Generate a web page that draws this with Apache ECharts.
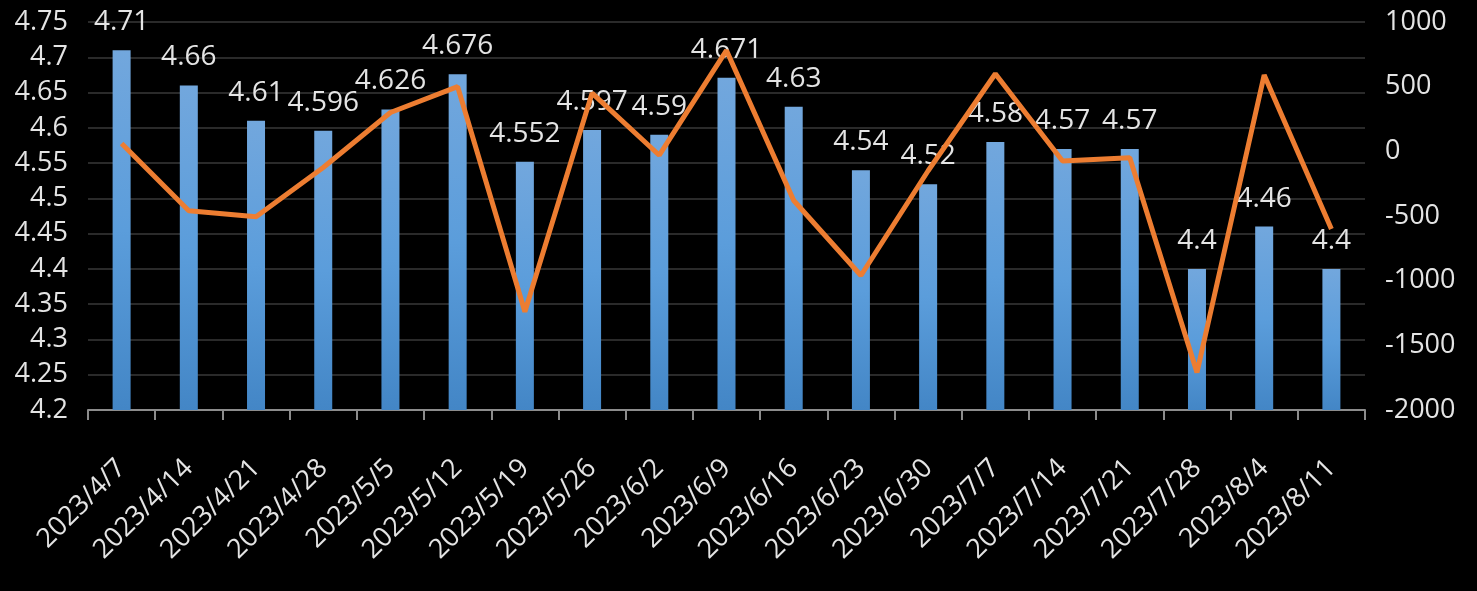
<!DOCTYPE html>
<html>
<head>
<meta charset="utf-8">
<script src="https://cdn.jsdelivr.net/npm/echarts@6/dist/echarts.min.js"></script>
<style>
html,body{margin:0;padding:0;background:#000;}
#c{width:1477px;height:591px;}
</style>
</head>
<body>
<div id="c"></div>
<script>
var categories = ["2023/4/7","2023/4/14","2023/4/21","2023/4/28","2023/5/5","2023/5/12","2023/5/19","2023/5/26","2023/6/2","2023/6/9","2023/6/16","2023/6/23","2023/6/30","2023/7/7","2023/7/14","2023/7/21","2023/7/28","2023/8/4","2023/8/11"];
var barValues = [4.71,4.66,4.61,4.596,4.626,4.676,4.552,4.597,4.59,4.671,4.63,4.54,4.52,4.58,4.57,4.57,4.4,4.46,4.4];
var lineValues = [60,-460,-505,-125,300,500,-1240,450,-30,780,-380,-960,-150,600,-75,-50,-1710,590,-600];
var leftTicks = {min:4.2, max:4.75, interval:0.05};
var rightTicks = {min:-2000, max:1000, interval:500};

var FONT = '"Open Sans", "Noto Sans", sans-serif';
var TXT = '#e4e4e4';
var chart = echarts.init(document.getElementById('c'));
chart.setOption({
  backgroundColor:'#000',
  animation:false,
  grid:{left:88, right:112, top:22, bottom:181},
  xAxis:{
    type:'category', data:categories,
    axisLine:{onZero:false, lineStyle:{color:'#8c8c8c', width:2}},
    axisTick:{show:true, alignWithLabel:false, length:10, lineStyle:{color:'#8c8c8c', width:2}},
    axisLabel:{rotate:45, interval:0, margin:54, color:TXT, fontSize:27, fontFamily:FONT}
  },
  yAxis:[{
    type:'value', min:leftTicks.min, max:leftTicks.max, interval:leftTicks.interval,
    axisLine:{show:false}, axisTick:{show:false},
    splitLine:{lineStyle:{color:'#2a2a2a', width:2}},
    axisLabel:{color:TXT, fontSize:27, fontFamily:FONT, margin:20,
      formatter:function(v){return String(parseFloat(v.toFixed(2)));}}
  },{
    type:'value', min:rightTicks.min, max:rightTicks.max, interval:rightTicks.interval,
    axisLine:{show:false}, axisTick:{show:false}, splitLine:{show:false},
    axisLabel:{color:TXT, fontSize:27, fontFamily:FONT, margin:20,
      formatter:function(v){return String(v);}}
  }],
  series:[{
    type:'bar', data:barValues, barWidth:18, yAxisIndex:0,
    itemStyle:{color:new echarts.graphic.LinearGradient(0,0,0,1,[{offset:0,color:'#72a7dd'},{offset:0.5,color:'#5b9ddb'},{offset:1,color:'#4386c6'}])},
    label:{show:true, position:'top', distance:14, color:TXT, fontSize:28, fontFamily:FONT,
      formatter:function(p){return String(p.value);}}
  },{
    type:'line', data:lineValues, yAxisIndex:1, symbol:'none',
    lineStyle:{color:'#ed7d31', width:5}, z:5
  }]
});
</script>
</body>
</html>
